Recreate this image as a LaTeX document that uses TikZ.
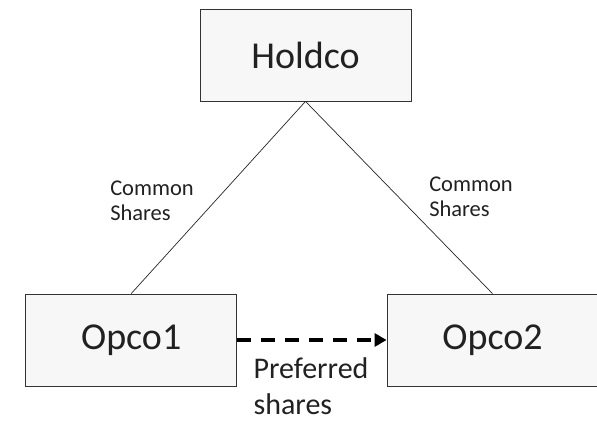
\documentclass[tikz,border=0pt]{standalone}
\usepackage{fontspec}
\setmainfont{Carlito}
\usetikzlibrary{arrows.meta}
\begin{document}
\begin{tikzpicture}[x=1pt,y=-1pt,
  ent/.style={draw=black!80,fill=black!3,line width=0.8pt,inner sep=0pt,minimum width=211pt,minimum height=92pt,font=\fontsize{38}{44}\selectfont,text=black!87},
  own/.style={draw=black!85,line width=0.7pt},
  lbl/.style={inner sep=0pt,align=left,text=black!87}]
\useasboundingbox (0,0) rectangle (597,422);
\node[ent] (hold) at (305.5,55) {Holdco};
\node[ent] (op1) at (131.2,340) {Opco1};
\node[ent] (op2) at (492.5,340) {Opco2};
\draw[own] (hold.south) -- (op1.north);
\draw[own] (hold.south) -- (op2.north);
\node[lbl,font=\fontsize{22.5}{25}\selectfont] (c1) at (152,201) {Common\\Shares};
\node[lbl,font=\fontsize{22.5}{25}\selectfont] (c2) at (471,197) {Common\\Shares};
\draw[line width=3.5pt,dash pattern=on 14pt off 10pt,-{Triangle[length=12pt,width=13pt]}] (op1.east) -- (op2.west);
\node[lbl,font=\fontsize{30}{36}\selectfont] (pref) at (311,386) {Preferred\\shares};
\end{tikzpicture}
\end{document}
